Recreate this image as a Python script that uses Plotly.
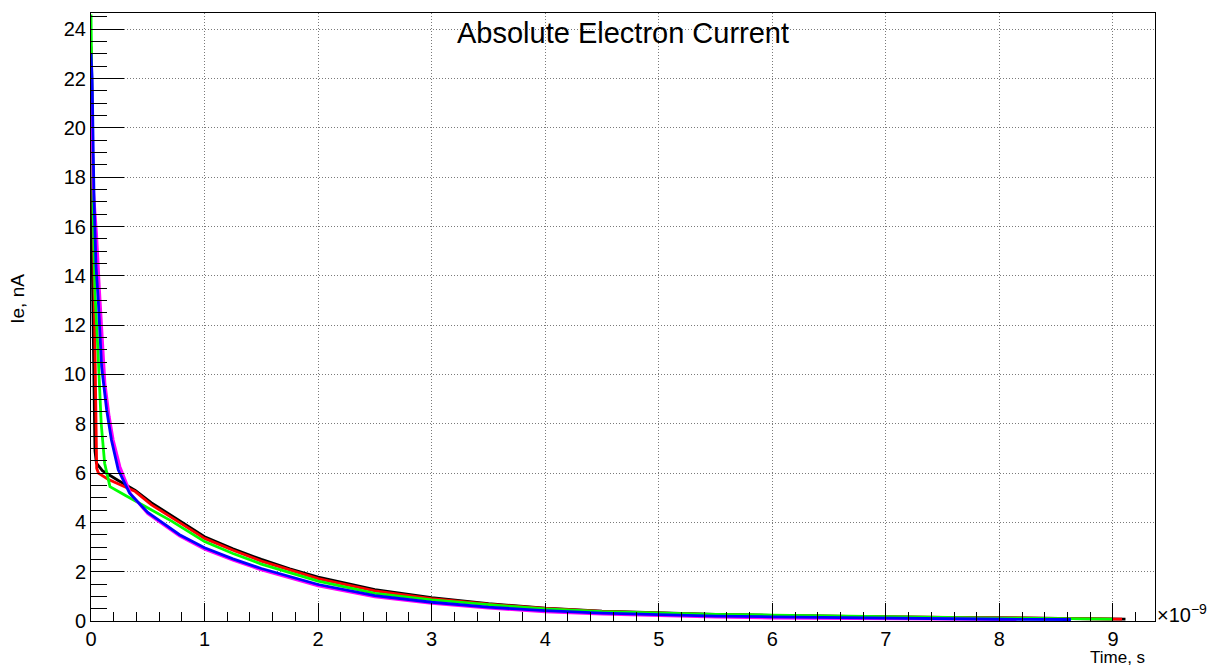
import plotly.graph_objects as go

# Time in units of 1e-9 s, current in nA
black_x = [0.0, 0.01, 0.02, 0.028, 0.035, 0.048, 0.1, 0.24, 0.39, 0.53, 0.75, 1.0, 1.25, 1.5, 1.75, 2.0,
           2.5, 3.0, 3.5, 4.0, 4.5, 5.0, 5.5, 6.0, 6.5, 7.0, 7.5, 8.0, 8.5, 9.0, 9.11]
black_y = [18.0, 14.5, 11.0, 8.5, 6.9, 6.4, 6.1, 5.7, 5.3, 4.8, 4.15, 3.42, 2.93, 2.50, 2.12, 1.78,
           1.27, 0.95, 0.70, 0.52, 0.40, 0.32, 0.27, 0.23, 0.19, 0.17, 0.15, 0.13, 0.11, 0.09, 0.08]

red_x = [0.0, 0.005, 0.01, 0.02, 0.03, 0.04, 0.045, 0.05, 0.065, 0.15, 0.39, 0.53, 0.75, 1.0, 1.25, 1.5,
         1.75, 2.0, 2.5, 3.0, 3.5, 4.0, 4.5, 5.0, 5.5, 6.0, 6.5, 7.0, 7.5, 8.0, 8.5, 9.0, 9.08]
red_y = [23.3, 22.2, 20.6, 16.0, 12.0, 9.0, 7.0, 6.2, 6.0, 5.75, 5.25, 4.72, 4.08, 3.35, 2.87, 2.43,
         2.07, 1.72, 1.22, 0.91, 0.68, 0.51, 0.39, 0.31, 0.26, 0.22, 0.19, 0.17, 0.15, 0.13, 0.11, 0.09, 0.08]

green_x = [0.0, 0.005, 0.01, 0.02, 0.035, 0.06, 0.075, 0.09, 0.12, 0.167, 0.3, 0.53, 0.71, 1.0, 1.25, 1.5,
           1.75, 2.0, 2.5, 3.0, 3.5, 4.0, 4.5, 5.0, 5.5, 6.0, 6.5, 7.0, 7.5, 8.0, 8.5, 9.0]
green_y = [24.6, 23.2, 20.7, 16.4, 13.3, 11.1, 9.5, 8.0, 6.4, 5.45, 5.1, 4.5, 4.05, 3.22, 2.74, 2.31,
           1.95, 1.62, 1.12, 0.86, 0.66, 0.49, 0.38, 0.31, 0.27, 0.24, 0.20, 0.17, 0.15, 0.12, 0.10, 0.08]

magenta_x = [0.0, 0.01, 0.02, 0.035, 0.049, 0.075, 0.1, 0.123, 0.16, 0.196, 0.255, 0.35, 0.5, 0.62, 0.78,
             1.0, 1.25, 1.5, 1.75, 2.0, 2.5, 3.0, 3.5, 4.0, 4.5, 5.0, 5.5, 6.0, 6.5, 7.0, 7.5, 8.15]
magenta_y = [22.5, 20.0, 17.6, 16.6, 15.7, 13.4, 11.3, 9.64, 8.3, 7.34, 6.26, 5.15, 4.35, 3.95, 3.45,
             2.91, 2.47, 2.07, 1.74, 1.42, 0.98, 0.72, 0.52, 0.37, 0.28, 0.21, 0.16, 0.12, 0.10, 0.08, 0.07, 0.06]

blue_x = [0.0, 0.01, 0.02, 0.027, 0.044, 0.064, 0.094, 0.138, 0.18, 0.24, 0.34, 0.5, 0.61, 0.78, 1.0,
          1.25, 1.5, 1.75, 2.0, 2.5, 3.0, 3.5, 4.0, 4.5, 5.0, 5.5, 6.0, 6.5, 7.0, 7.5, 8.0, 8.63]
blue_y = [23.0, 22.0, 19.0, 17.1, 14.4, 13.0, 10.3, 8.56, 7.34, 6.13, 5.18, 4.4, 4.05, 3.5, 2.97,
          2.52, 2.13, 1.80, 1.48, 1.03, 0.76, 0.56, 0.42, 0.32, 0.25, 0.20, 0.17, 0.14, 0.11, 0.09, 0.07, 0.06]

series = [
    (black_x, black_y, "#000000"),
    (red_x, red_y, "#ff0000"),
    (green_x, green_y, "#00ff00"),
    (magenta_x, magenta_y, "#ff00ff"),
    (blue_x, blue_y, "#0000ff"),
]

x_tick_vals = [0, 1, 2, 3, 4, 5, 6, 7, 8, 9]
y_tick_vals = [0, 2, 4, 6, 8, 10, 12, 14, 16, 18, 20, 22, 24]

FONT = "Liberation Sans, Arial, Helvetica, sans-serif"

fig = go.Figure()
for xs, ys, col in series:
    fig.add_trace(go.Scatter(x=xs, y=ys, mode="lines",
                             line=dict(color=col, width=2.8), showlegend=False))

axis_common = dict(
    showline=True, linecolor="black", linewidth=1, mirror=True,
    showgrid=True, gridcolor="#7a7a7a", griddash="1px,2px", gridwidth=1,
    zeroline=False, ticks="inside", tickcolor="black", tickwidth=1,
    tickfont=dict(family=FONT, size=20, color="black"),
)

fig.update_layout(
    width=1210, height=667,
    paper_bgcolor="white", plot_bgcolor="white",
    margin=dict(l=91, r=55, t=13, b=46),
    font=dict(family=FONT, color="black"),
    xaxis=dict(range=[0, 9.37], tickvals=x_tick_vals, ticktext=[str(v) for v in x_tick_vals],
               ticklen=18, minor=dict(dtick=0.2, ticklen=9, ticks="inside", tickcolor="black", showgrid=False),
               **axis_common),
    yaxis=dict(range=[0, 24.66], tickvals=y_tick_vals, ticktext=[str(v) for v in y_tick_vals],
               ticklen=33, minor=dict(dtick=0.5, ticklen=16, ticks="inside", tickcolor="black", showgrid=False),
               **axis_common),
    annotations=[
        dict(text="Absolute Electron Current", xref="paper", yref="paper", x=0.5, y=1,
             yshift=-20, xanchor="center", yanchor="middle", showarrow=False,
             font=dict(family=FONT, size=29, color="black")),
        dict(text="Time, s", xref="paper", yref="paper", x=1.0, y=0, xshift=-8,
             yshift=-36, xanchor="right", yanchor="middle", showarrow=False,
             font=dict(family=FONT, size=17, color="black")),
        dict(text="Ie, nA", xref="paper", yref="paper", x=0, y=0.53, xshift=-73,
             xanchor="center", yanchor="middle", textangle=-90, showarrow=False,
             font=dict(family=FONT, size=19, color="black")),
        dict(text="×10<sup>−9</sup>", xref="paper", yref="paper", x=1.0, y=0, xshift=0,
             yshift=-7, xanchor="left", yanchor="bottom", showarrow=False,
             font=dict(family=FONT, size=20, color="black")),
    ],
)

fig.write_html("out.html", config={"displayModeBar": False},
               post_script="document.body.style.margin='0';document.body.style.padding='0';")
